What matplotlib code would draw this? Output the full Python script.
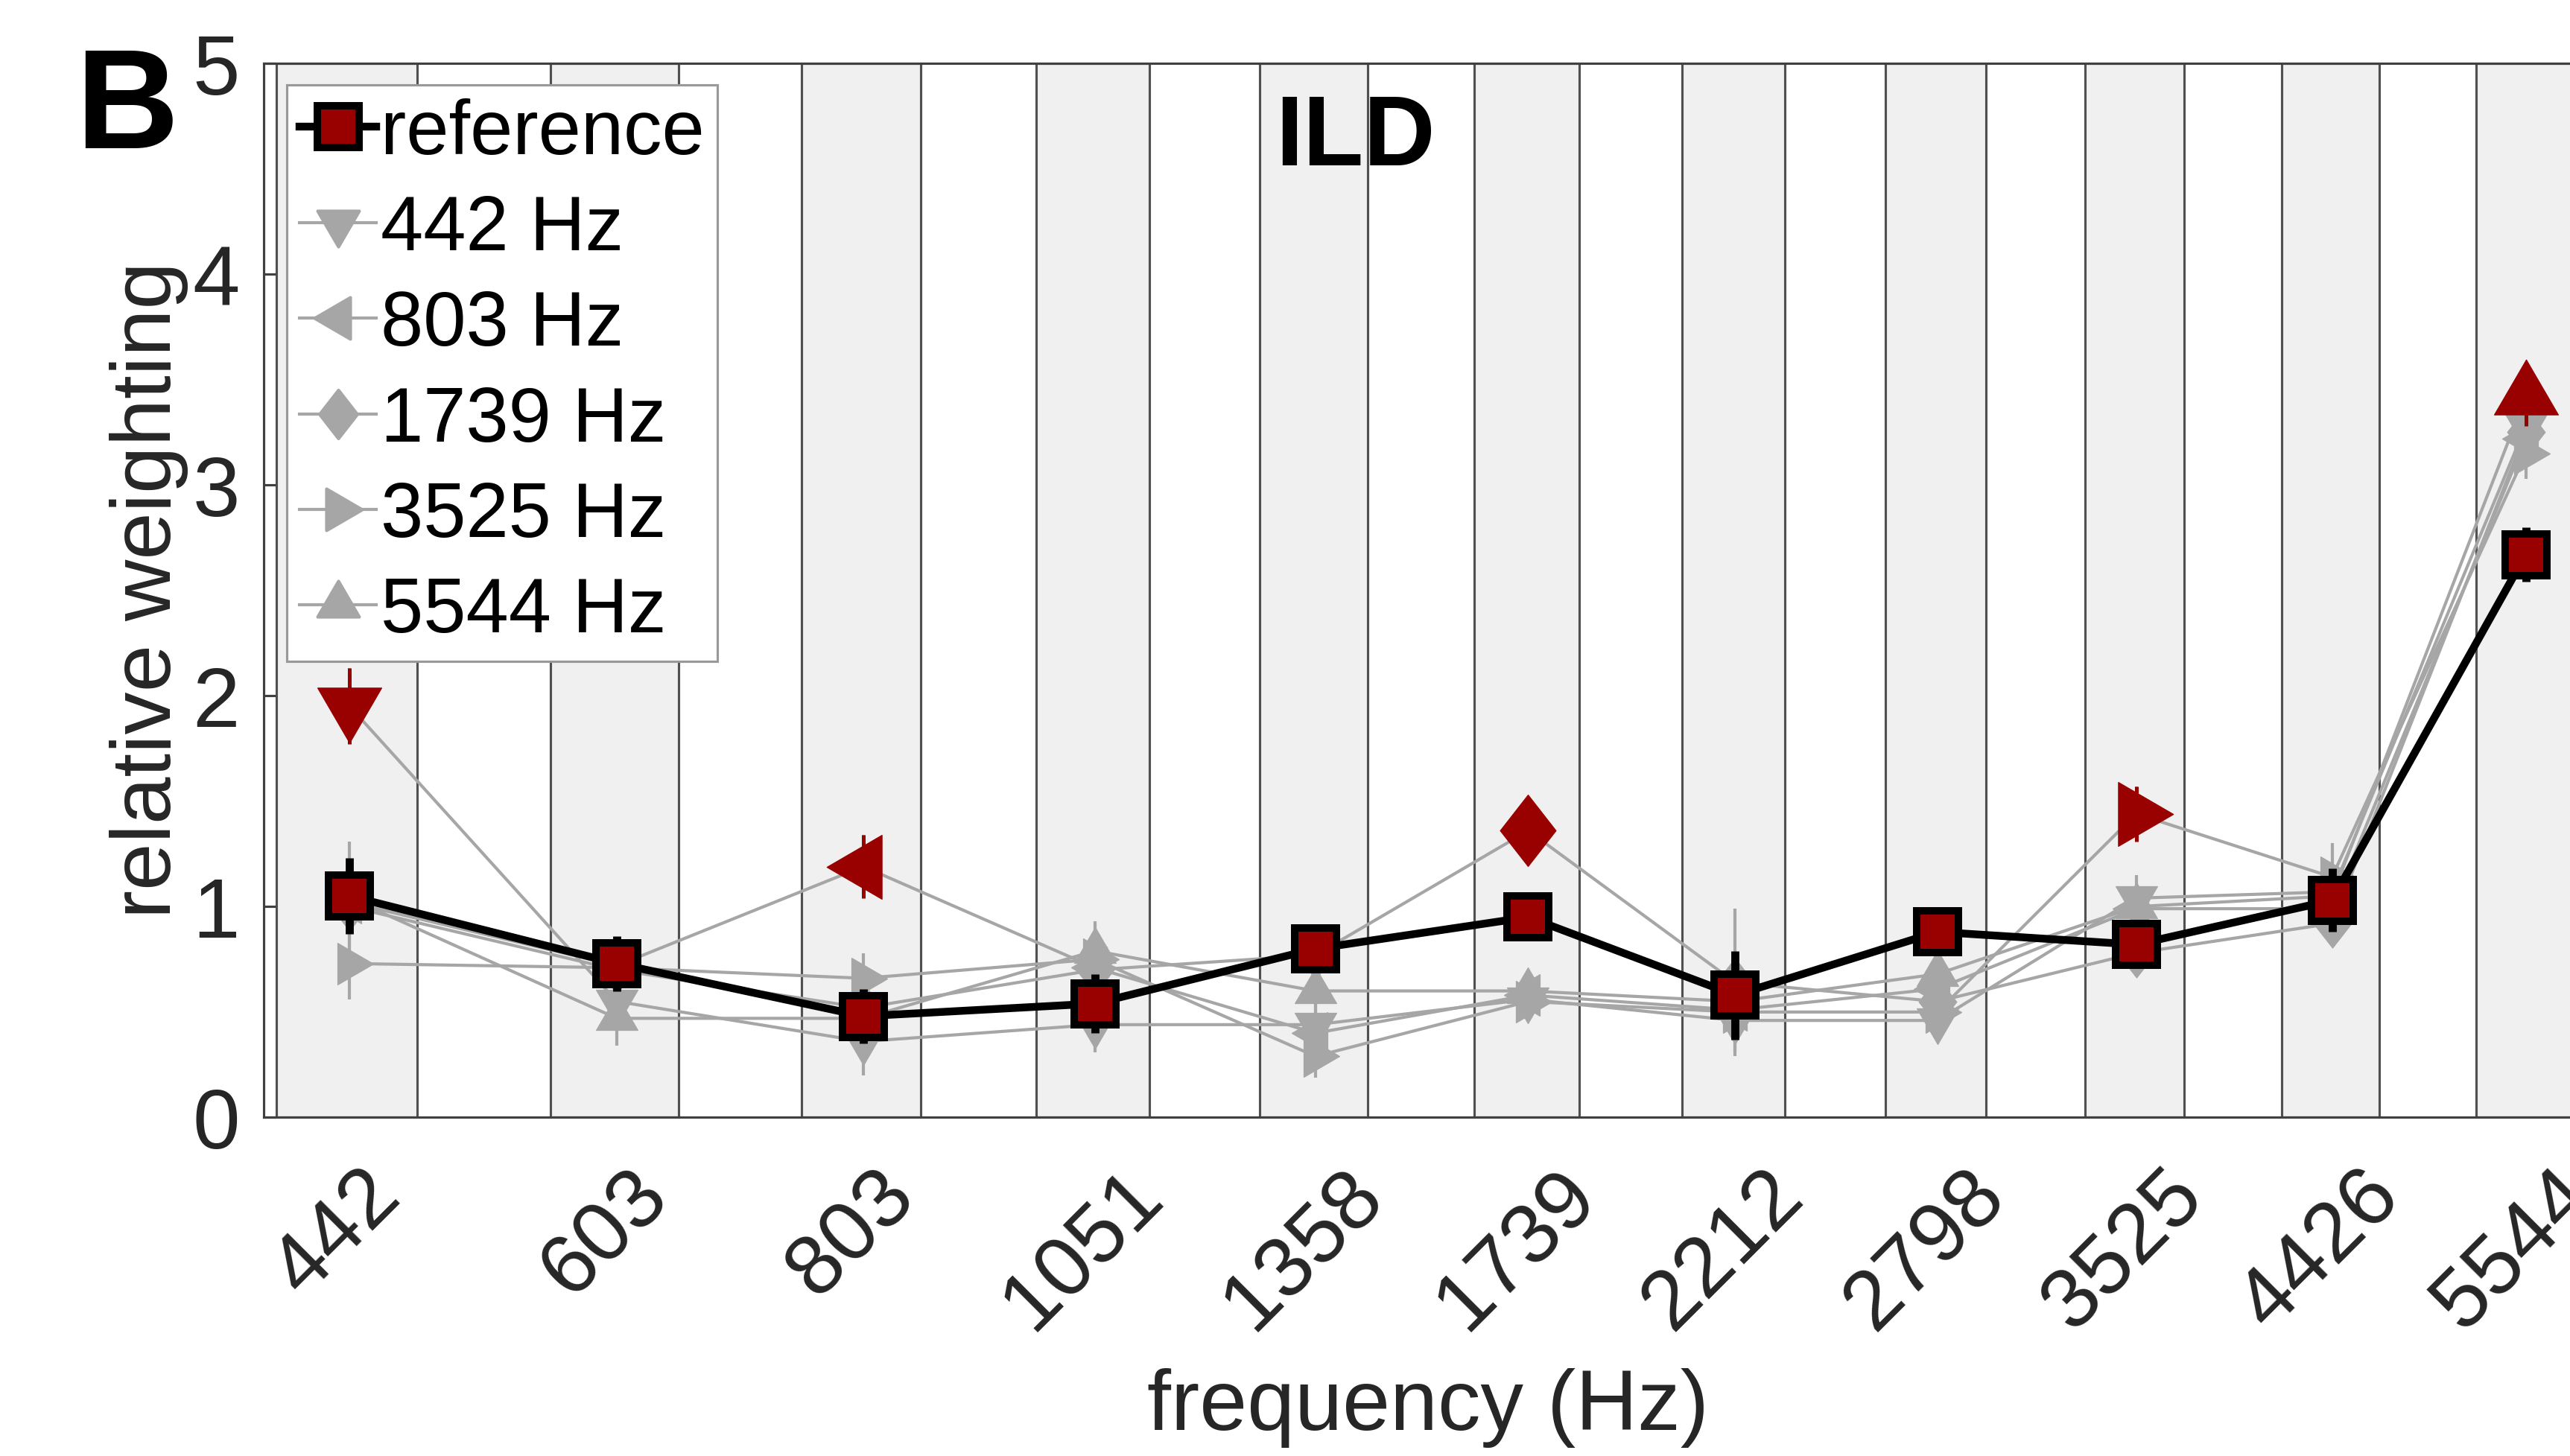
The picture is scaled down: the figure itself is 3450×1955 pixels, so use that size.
import numpy as np
import matplotlib
matplotlib.use("Agg")
import matplotlib.pyplot as plt
from matplotlib.path import Path
from matplotlib.lines import Line2D
from matplotlib.ticker import NullLocator
from matplotlib.transforms import ScaledTranslation

plt.rcParams['font.family'] = ['Liberation Sans', 'DejaVu Sans']

# ---------------- data ----------------
freqs = [442, 603, 803, 1051, 1358, 1739, 2212, 2798, 3525, 4426, 5544]
tick_labels = ["442", "603", "803", "1051", "1358", "1739", "2212", "2798", "3525", "4426", "5544"]
y_ticks = [0, 1, 2, 3, 4, 5]

ref_vals = [1.05, 0.73, 0.48, 0.54, 0.80, 0.95, 0.58, 0.88, 0.82, 1.03, 2.67]
ref_err = [0.18, 0.13, 0.13, 0.14, 0.10, 0.10, 0.21, 0.10, 0.10, 0.15, 0.13]

series_labels = ["442 Hz", "803 Hz", "1739 Hz", "3525 Hz", "5544 Hz"]
series_target = [442, 803, 1739, 3525, 5544]

w442_vals = [1.95, 0.55, 0.36, 0.44, 0.44, 0.56, 0.46, 0.46, 1.04, 1.07, 3.28]
w803_vals = [1.02, 0.72, 1.19, 0.71, 0.40, 0.58, 0.51, 0.61, 0.99, 0.99, 3.22]
w1739_vals = [1.00, 0.70, 0.52, 0.70, 0.77, 1.36, 0.64, 0.55, 0.78, 0.92, 3.25]
w3525_vals = [0.73, 0.71, 0.66, 0.75, 0.29, 0.55, 0.50, 0.50, 1.44, 1.14, 3.15]
w5544_vals = [1.04, 0.47, 0.47, 0.79, 0.60, 0.60, 0.55, 0.68, 1.00, 1.05, 3.42]

w442_err = [0.18, 0.12, 0.16, 0.13, 0.10, 0.08, 0.15, 0.10, 0.11, 0.10, 0.12]
w803_err = [0.12, 0.10, 0.15, 0.10, 0.10, 0.08, 0.12, 0.09, 0.10, 0.10, 0.12]
w1739_err = [0.12, 0.10, 0.10, 0.10, 0.10, 0.10, 0.35, 0.09, 0.10, 0.10, 0.12]
w3525_err = [0.17, 0.10, 0.12, 0.10, 0.10, 0.08, 0.12, 0.09, 0.13, 0.16, 0.12]
w5544_err = [0.27, 0.13, 0.10, 0.14, 0.10, 0.08, 0.12, 0.09, 0.10, 0.10, 0.14]

# ---------------- styles ----------------
GRAY = '#a6a6a6'
RED = '#990000'
BAND = '#f0f0f0'
BANDLINE = '#505050'
AXC = '#404040'
TXT = '#262626'

CODES4 = [Path.MOVETO, Path.LINETO, Path.LINETO, Path.CLOSEPOLY]


def tri(direction):
    """Triangle (base 1, height 0.86) centred on its centroid.
    Returns (path, factor) where markersize = factor * wanted base size."""
    h = 0.86
    c = h / 3.0
    base = [(-0.5, -c), (0.5, -c), (0.0, h - c)]  # pointing up
    if direction == 'up':
        v = base
    elif direction == 'down':
        v = [(x, -y) for x, y in base]
    elif direction == 'left':
        v = [(-y, x) for x, y in base]
    else:
        v = [(y, x) for x, y in base]
    v = v + [v[0]]
    m = max(abs(a) for p in v for a in p)
    return Path(v, CODES4), 2 * m


diamond = (Path([(0, 0.5), (0.39, 0), (0, -0.5), (-0.39, 0), (0, 0.5)],
                [Path.MOVETO, Path.LINETO, Path.LINETO, Path.LINETO, Path.CLOSEPOLY]), 1.0)

series_vals = [w442_vals, w803_vals, w1739_vals, w3525_vals, w5544_vals]
series_err = [w442_err, w803_err, w1739_err, w3525_err, w5544_err]
series_markers = [tri('down'), tri('left'), diamond, tri('right'), tri('up')]
gray_size = [13.4, 13.4, 15.6, 13.4, 13.4]
red_size = [20.6, 20.6, 23.0, 20.6, 20.6]

W, H = 3450, 1956
fig = plt.figure(figsize=(W / 300, H / 300), dpi=300)
ax_left, ax_right, ax_top, ax_bot = 354, 3482, 85.9, 1501.4
ax = fig.add_axes([ax_left / W, (H - ax_bot) / H, (ax_right - ax_left) / W, (ax_bot - ax_top) / H])
ax.set_xscale('log')
ax.set_xlim(400, 6000)
ax.set_ylim(0, 5)

# bands (1-ERB wide around each frequency)
for f in freqs:
    erb = 24.7 * (4.37 * f / 1000.0 + 1)
    ax.axvspan(f - erb / 2, f + erb / 2, facecolor=BAND, edgecolor=BANDLINE, lw=0.75, zorder=0)

# gray series
for vals, errs, (mk, fac), sz in zip(series_vals, series_err, series_markers, gray_size):
    ax.errorbar(freqs, vals, yerr=errs, color=GRAY, lw=1.0, marker=mk, ms=sz * fac,
                mfc=GRAY, mec=GRAY, mew=0.3, elinewidth=1.0, capsize=0, zorder=2)

# highlighted (red) points
for vals, errs, (mk, fac), sz, tgt in zip(series_vals, series_err, series_markers, red_size, series_target):
    i = freqs.index(tgt)
    ax.errorbar([freqs[i]], [vals[i]], yerr=[errs[i]], color=RED, ls='none', marker=mk, ms=sz * fac,
                mfc=RED, mec=RED, mew=0.3, elinewidth=1.2, capsize=0, zorder=3)

# reference
ax.errorbar(freqs, ref_vals, yerr=ref_err, color='k', lw=2.5, marker='s', ms=13.5,
            mfc=RED, mec='k', mew=2.4, elinewidth=2.6, capsize=0, zorder=5)

# axes styling
ax.set_xticks(freqs)
ax.set_xticklabels(tick_labels, rotation=45)
ax.xaxis.set_minor_locator(NullLocator())
ax.set_yticks(y_ticks)
ax.tick_params(axis='y', direction='in', length=3.8, width=0.75, color=AXC,
               labelsize=27.4, labelcolor=TXT, pad=7.7)
ax.tick_params(axis='x', length=0, labelsize=27.4, labelcolor=TXT, pad=12)
shift = ScaledTranslation(-16 / 300, 0, fig.dpi_scale_trans)
for lbl in ax.get_xticklabels():
    lbl.set_transform(lbl.get_transform() + shift)
for s in ['left', 'bottom', 'top', 'right']:
    ax.spines[s].set_color(AXC)
    ax.spines[s].set_linewidth(0.75)

# legend
handles = [Line2D([], [], color='k', lw=2.5, marker='s', ms=13.5, mfc=RED, mec='k', mew=2.4)]
for (mk, fac), sz in zip(series_markers, gray_size):
    handles.append(Line2D([], [], color=GRAY, lw=1.0, marker=mk, ms=sz * fac, mfc=GRAY, mec=GRAY))
leg = ax.legend(handles, ["reference"] + series_labels, loc='upper left',
                bbox_to_anchor=(0.0099, 0.9795), borderaxespad=0, frameon=True,
                fancybox=False, edgecolor='#999999', framealpha=1, fontsize=24.7,
                handlelength=1.0, handletextpad=0.05, labelspacing=0.305, borderpad=0.17)
leg.get_frame().set_linewidth(0.75)
leg.set_zorder(10)

# texts
fig.text(1819 / W, 1 - 222 / H, "ILD", ha='center', va='baseline', fontsize=32, fontweight='bold', color='k')
fig.text(101 / W, 1 - 199 / H, "B", ha='left', va='baseline', fontsize=46, fontweight='bold', color='k')
fig.text(1917 / W, 1 - 1920 / H, "frequency (Hz)", ha='center', va='baseline', fontsize=27.6, color=TXT)
fig.text(229 / W, 1 - 792 / H, "relative weighting", ha='center', va='baseline', rotation=90,
         rotation_mode='anchor', fontsize=27.4, color=TXT)

fig.savefig("out.png", dpi=300)
